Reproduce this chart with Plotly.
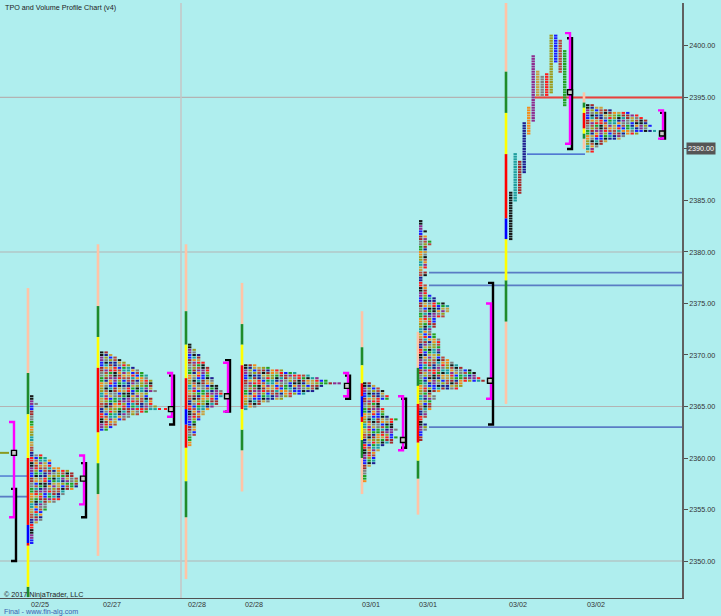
import plotly.graph_objects as go

# ---------------- data ----------------
dates = ["02/25", "02/27", "02/28", "02/28", "03/01", "03/01", "03/02", "03/02"]
date_slot = [40, 112, 197, 254, 371, 428, 518, 596]

price_ticks = [2400, 2395, 2390, 2385, 2380, 2375, 2370, 2365, 2360, 2355, 2350]
grid_levels = [2395, 2380, 2365, 2350]
last_price = 2390.00
tick = 0.25

# collapsed TPO profiles: start slot, top price, row widths (top -> bottom, 0.25 steps)
prof_slot = [30, 100, 188, 244, 363, 419, 586]
prof_top = [2366.0, 2370.25, 2371.0, 2369.0, 2367.25, 2383.0, 2394.25]
w_0225 = [1, 1, 1, 2, 1, 1, 1, 1, 1, 1, 1, 1, 1, 1, 1, 1, 1, 1, 1, 1, 1, 1, 1,
          3, 4, 5, 5, 5, 7, 9, 10, 10, 11, 11, 11, 11, 10, 8, 8, 7, 7, 6, 4, 4, 4,
          3, 3, 3, 3, 2, 1, 1, 1, 1, 1, 1, 1, 1]
w_0227 = [2, 3, 4, 5, 6, 7, 8, 9, 10, 11, 11, 12, 12, 12, 12, 13, 11, 11, 12, 12,
          12, 13, 13, 11, 9, 7, 6, 4, 4, 3, 2]
w_0228a = [1, 1, 2, 2, 3, 3, 3, 4, 4, 5, 5, 5, 5, 6, 6, 6, 7, 7, 8, 8, 8, 7, 7, 7,
           6, 5, 4, 4, 3, 3, 2, 2, 2, 2, 2, 2, 1, 1, 1, 1]
w_0228b = [3, 6, 9, 12, 15, 17, 19, 22, 18, 17, 16, 14, 11, 9, 6, 4, 3, 1]
w_0301a = [2, 3, 4, 5, 5, 6, 6, 4, 4, 4, 5, 5, 5, 6, 8, 7, 7, 7, 8, 7, 7, 8, 7, 7,
           5, 4, 4, 3, 3, 3, 3, 3, 2, 1, 1, 1, 1, 1, 1]
w_0301b = [1, 1, 1, 1, 2, 1, 2, 2, 3, 3, 2, 2, 2, 2, 2, 2, 2, 2, 2, 1, 2, 2, 1, 1,
           1, 2, 2, 2, 2, 3, 4, 4, 6, 7, 7, 7, 6, 6, 4, 4, 4, 4, 3, 3, 4, 4, 5, 5,
           5, 5, 5, 5, 5, 6, 7, 8, 9, 10, 12, 13, 13, 14, 15, 10, 10, 9, 5, 3, 4, 4,
           3, 3, 3, 3, 2, 2, 2, 1, 1, 2, 2, 2, 1, 1, 1, 1]
w_0302b = [2, 4, 6, 10, 12, 13, 14, 14, 15, 14, 15, 12, 9, 8, 5, 4, 3, 2, 2]
prof_widths = [w_0225, w_0227, w_0228a, w_0228b, w_0301a, w_0301b, w_0302b]

# split (trend) profile 03/02 a: one column per period, high/low
split_slot = 509
split_hi = [2385.75, 2389.5, 2388.75, 2392.5, 2394.0, 2399.0, 2397.5, 2397.0,
            2397.25, 2401.0, 2401.0, 2400.5, 2399.5]
split_lo = [2381.25, 2385.0, 2385.75, 2387.75, 2391.5, 2392.75, 2395.25, 2395.25,
            2395.25, 2395.5, 2398.5, 2397.5, 2394.25]

# session range bars (colour bands)
bar_slot = [28, 98, 186, 242, 362, 418, 506, 584]
bar_edges = [
    [2376.5, 2368.25, 2364.25, 2360.0, 2353.5, 2351.75, 2351.5, 2347.5, 2346.5],
    [2380.75, 2374.75, 2371.75, 2368.75, 2362.5, 2359.5, 2356.5, 2350.5],
    [2380.75, 2374.25, 2371.0, 2367.75, 2364.75, 2363.25, 2361.0, 2357.75, 2354.25, 2348.25],
    [2377.0, 2373.0, 2371.0, 2369.0, 2364.75, 2362.75, 2360.75, 2356.75],
    [2374.25, 2370.75, 2369.0, 2367.25, 2366.0, 2364.0, 2363.5, 2361.75, 2360.0, 2356.5],
    [2372.25, 2368.75, 2367.0, 2365.25, 2361.5, 2359.75, 2358.0, 2354.5],
    [2404.25, 2397.5, 2393.5, 2389.5, 2383.25, 2381.25, 2377.25, 2373.25, 2365.25],
    [2395.5, 2394.5, 2394.0, 2393.5, 2392.0, 2391.5, 2391.0, 2390.0],
]
bar_bands = [
    ["peach", "green", "yellow", "red", "blue", "red", "yellow", "green"],
    ["peach", "green", "yellow", "red", "yellow", "green", "peach"],
    ["peach", "green", "yellow", "red", "blue", "red", "yellow", "green", "peach"],
    ["peach", "green", "yellow", "red", "yellow", "green", "peach"],
    ["peach", "green", "yellow", "red", "blue", "red", "yellow", "green", "peach"],
    ["peach", "green", "yellow", "red", "yellow", "green", "peach"],
    ["peach", "green", "yellow", "red", "blue", "yellow", "green", "peach"],
    ["peach", "green", "yellow", "red", "yellow", "green", "peach"],
]

# value area (magenta) and IB (black) brackets, POC markers
va_slot = [14, 84, 172, 228, 348, 403, 491, 570, 663]
va_hi = [2363.5, 2360.25, 2368.25, 2369.25, 2368.25, 2366.0, 2375.0, 2401.25, 2393.75]
va_lo = [2354.25, 2355.5, 2364.0, 2364.5, 2366.0, 2360.75, 2365.75, 2390.5, 2391.0]
ib_slot = [16, 86, 174, 230, 350, 406, 493, 572, 665]
ib_hi = [2357.0, 2359.5, 2368.0, 2369.5, 2368.0, 2365.75, 2377.0, 2400.75, 2393.5]
ib_lo = [2350.0, 2354.25, 2363.25, 2364.5, 2365.75, 2361.0, 2363.25, 2390.0, 2391.0]
poc_slot = [14, 83, 171, 227, 347, 403, 490, 570, 662]
poc_price = [2360.5, 2358.0, 2364.75, 2366.0, 2367.0, 2361.75, 2367.5, 2395.5, 2391.5]

# horizontal reference lines: price, from slot, to slot, style
ref_price = [2395.0, 2389.5, 2378.0, 2376.75, 2363.0, 2358.25, 2356.25]
ref_from = [535, 527, 429, 429, 429, 0, 0]
ref_to = [682, 585, 682, 682, 682, 28, 28]
ref_style = ["red", "thin", "steel", "steel", "steel", "thin", "steel"]

session_divider = [181]

# ---------------- styling ----------------
BG = "#AFEEEE"
FONT = "Liberation Sans, Arial, sans-serif"
FS = 7.2
palette = ["#161616", "#1f9e9e", "#a52a2a", "#1e1e8f", "#f28c1c", "#8e2b8e",
           "#c9a040", "#808080", "#ff1c1c", "#9c9c1c", "#1c1cff", "#b8483c", "#22a022"]
band_col = {"peach": "#ffc4a6", "green": "#1f8b2a", "yellow": "#ffff00",
            "red": "#ff0000", "blue": "#0000ff"}
COL = 4.45
BLK = 3.4
X_MAX = 682
Y_LO, Y_HI = 2346.41, 2404.17

fig = go.Figure()

def seg_trace(xs, ys, color, width, dash=None):
    fig.add_trace(go.Scatter(x=xs, y=ys, mode="lines",
                             line=dict(color=color, width=width, dash=dash),
                             hoverinfo="skip", showlegend=False))

# grid / dividers
gx, gy = [], []
for lv in grid_levels:
    gx += [0, X_MAX, None]; gy += [lv, lv, None]
seg_trace(gx, gy, "#b3b3b3", 1.2)
for sx in session_divider:
    seg_trace([sx, sx], [Y_LO, Y_HI], "#c6c6c6", 1.5)

# reference lines
style_map = {"red": ("#e8413c", 2), "thin": ("#3050c8", 1.1), "steel": ("#5a7cc4", 1.8)}
for p, a, b, s in zip(ref_price, ref_from, ref_to, ref_style):
    c, w = style_map[s]
    seg_trace([a, b], [p, p], c, w)
seg_trace([0, 10], [poc_price[0], poc_price[0]], "#8a9a20", 2, "dash")

# session bars
band_xy = {k: ([], []) for k in band_col}
for sx, edges, bands in zip(bar_slot, bar_edges, bar_bands):
    for i, b in enumerate(bands):
        xs, ys = band_xy[b]
        xs += [sx, sx, None]; ys += [edges[i], edges[i + 1], None]
for k, (xs, ys) in band_xy.items():
    seg_trace(xs, ys, band_col[k], 2.6)

# TPO blocks
blk = {i: ([], []) for i in range(len(palette))}
for x0, top, widths in zip(prof_slot, prof_top, prof_widths):
    for r, w in enumerate(widths):
        p = top - r * tick
        for c in range(w):
            k = (c * 2 + (r // 2) * 5 + (c * r) % 3) % len(palette)
            xa = x0 + c * COL
            blk[k][0].extend([xa, xa + BLK, None]); blk[k][1].extend([p, p, None])
for i, (hi, lo) in enumerate(zip(split_hi, split_lo)):
    xa = split_slot + i * 4.5
    n = int(round((hi - lo) / tick)) + 1
    for j in range(n):
        p = hi - j * tick
        blk[i][0].extend([xa, xa + BLK, None]); blk[i][1].extend([p, p, None])
for k, (xs, ys) in blk.items():
    seg_trace(xs, ys, palette[k], 2.0)

# POC extension dashes
seg_trace([158, 168], [2364.75, 2364.75], "#ff1c1c", 2, "dot")
seg_trace([653, 659], [2391.75, 2391.75], "#1f9e9e", 2, "dot")

# brackets
def brackets(slots, his, los, color, width):
    xs, ys = [], []
    for sx, h, l in zip(slots, his, los):
        xs += [sx - 5, sx, sx, sx - 5, None]; ys += [h, h, l, l, None]
    seg_trace(xs, ys, color, width)
brackets(ib_slot, ib_hi, ib_lo, "#000000", 2.4)
brackets(va_slot, va_hi, va_lo, "#ff00ff", 2.4)

fig.add_trace(go.Scatter(x=poc_slot, y=poc_price, mode="markers",
                         marker=dict(symbol="square", size=5, color="#c8c8c8",
                                     line=dict(color="#000000", width=1.4)),
                         hoverinfo="skip", showlegend=False))

# price tag marker
fig.add_trace(go.Scatter(x=[X_MAX + 3], y=[last_price], mode="markers", cliponaxis=False,
                         marker=dict(symbol="triangle-left", size=7, color="#555555"),
                         hoverinfo="skip", showlegend=False))

H_PLOT = 595
def py(pxl):
    return (598 - pxl) / H_PLOT

fig.update_layout(
    width=721, height=616,
    margin=dict(l=0, r=39, t=3, b=18, pad=0),
    paper_bgcolor=BG, plot_bgcolor=BG,
    showlegend=False, hovermode=False,
    font=dict(family=FONT, size=FS, color="#333333"),
    xaxis=dict(range=[0, X_MAX], showgrid=False, zeroline=False,
               tickmode="array", tickvals=date_slot, ticktext=dates,
               ticks="", showline=True, linecolor="#505050", linewidth=1,
               tickfont=dict(size=FS, color="#333333"), ticklabelstandoff=-1,
               fixedrange=True),
    yaxis=dict(range=[Y_LO, Y_HI], side="right", showgrid=False, zeroline=False,
               tickmode="array", tickvals=price_ticks,
               ticktext=[f"{v:.2f}" for v in price_ticks],
               ticks="outside", ticklen=4, tickcolor="#505050",
               showline=True, linecolor="#606060", linewidth=1.5,
               tickfont=dict(size=FS, color="#333333"), fixedrange=True),
    annotations=[
        dict(text="TPO and Volume Profile Chart (v4)", xref="paper", yref="paper",
             x=0, y=py(8), xshift=3, xanchor="left", yanchor="middle", showarrow=False,
             font=dict(size=FS, color="#222222")),
        dict(text="© 2017 NinjaTrader, LLC", xref="paper", yref="paper",
             x=0, y=py(594), xshift=2, xanchor="left", yanchor="middle", showarrow=False,
             font=dict(size=FS, color="#222222")),
        dict(text="Final - www.fin-alg.com", xref="paper", yref="paper",
             x=0, y=py(611), xshift=2, xanchor="left", yanchor="middle", showarrow=False,
             font=dict(size=FS, color="#3a5fb0")),
        dict(text=f"{last_price:.2f}", xref="paper", yref="y",
             x=1, y=last_price, xshift=4, xanchor="left", yanchor="middle", showarrow=False,
             bgcolor="#555555", borderpad=1, font=dict(size=FS, color="#ffffff")),
    ],
)

fig.write_html("out.html", config={"displayModeBar": False},
               post_script="document.body.style.margin='0';")
